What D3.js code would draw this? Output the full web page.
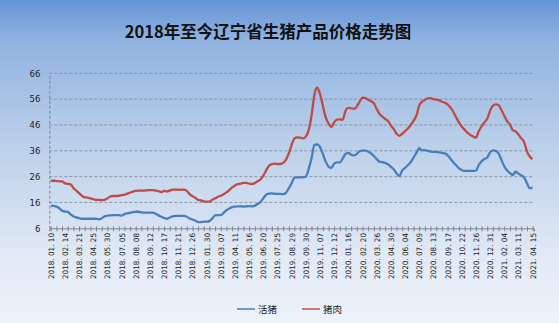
<!DOCTYPE html>
<html><head><meta charset="utf-8">
<script src="https://cdn.jsdelivr.net/npm/d3@7"></script>
<style>html,body{margin:0;padding:0;overflow:hidden;}svg{display:block;}</style>
</head><body>
<script>
const title = "2018年至今辽宁省生猪产品价格走势图";
const seriesNames = ["活猪", "猪肉"];
const yTicks = [6, 16, 26, 36, 46, 56, 66];
const tickLabels = ["2018. 01. 10","2018. 02. 14","2018. 03. 21","2018. 04. 25","2018. 05. 30","2018. 07. 05","2018. 08. 08","2018. 09. 12","2018. 10. 17","2018. 11. 21","2018. 12. 26","2019. 01. 30","2019. 03. 07","2019. 04. 11","2019. 05. 16","2019. 06. 20","2019. 07. 25","2019. 08. 29","2019. 09. 30","2019. 11. 07","2019. 12. 12","2020. 01. 16","2020. 02. 20","2020. 03. 26","2020. 04. 30","2020. 06. 04","2020. 07. 09","2020. 08. 13","2020. 09. 17","2020. 10. 22","2020. 11. 26","2020. 12. 31","2021. 02. 04","2021. 03. 11","2021. 04. 15"];
const livePig = [14.7,14.7,14.4,13.8,12.8,12.5,12.4,11.4,10.7,10.2,9.9,9.7,9.7,9.7,9.7,9.7,9.7,9.5,9.9,10.6,10.9,11.0,11.1,11.1,11.1,10.9,11.5,11.8,12.0,12.3,12.4,12.4,12.2,12.1,12.1,12.1,12.1,11.6,11.0,10.5,10.0,9.7,10.2,10.6,10.8,10.8,10.8,10.8,10.5,9.8,9.4,9.0,8.4,8.4,8.6,8.6,8.8,9.8,11.0,11.1,11.1,12.0,13.0,13.7,14.2,14.4,14.5,14.5,14.4,14.5,14.6,14.5,14.8,15.4,16.2,17.6,19.0,19.4,19.5,19.4,19.3,19.3,19.2,19.8,21.5,23.4,25.6,25.7,25.7,25.8,26.0,29.0,33.0,38.2,38.5,37.5,34.8,31.8,29.9,29.4,31.0,31.5,31.5,33.0,34.8,35.2,34.5,34.2,34.8,35.9,36.1,36.1,35.6,35.0,34.0,32.8,31.8,31.6,31.3,30.8,29.8,28.9,27.2,26.2,28.4,29.4,30.4,31.6,33.4,35.2,37.0,36.2,36.3,36.0,35.7,35.6,35.6,35.4,35.2,35.0,34.3,32.9,31.6,30.4,29.2,28.6,28.2,28.2,28.2,28.2,28.3,30.5,31.9,32.8,33.4,35.4,36.2,36.0,35.0,32.5,30.0,28.4,27.4,26.6,27.9,27.2,26.5,25.6,23.5,21.5,21.8];
const pork = [24.4,24.4,24.3,24.2,24.2,23.4,23.2,23.0,21.6,20.6,19.6,18.6,18.0,17.9,17.6,17.3,17.0,17.0,16.9,17.0,17.6,18.3,18.5,18.5,18.6,18.8,19.0,19.4,19.8,20.2,20.5,20.6,20.6,20.6,20.7,20.8,20.8,20.6,20.4,20.0,20.5,20.3,20.6,21.0,21.0,21.0,20.9,21.0,20.5,19.2,18.4,17.8,17.0,16.8,16.4,16.3,16.3,17.1,17.6,18.2,18.6,19.2,19.9,20.8,21.8,22.6,23.1,23.3,23.6,23.6,23.3,23.2,23.5,24.2,24.9,26.4,28.4,30.2,30.8,31.0,30.9,30.9,31.3,32.6,35.0,38.3,40.8,41.2,41.1,40.8,41.5,44.0,49.5,57.5,60.4,58.0,53.5,49.0,46.6,45.2,47.0,48.1,48.2,48.0,51.5,52.6,52.5,52.2,53.2,55.0,56.6,56.4,55.8,55.2,54.4,52.2,50.3,49.2,48.3,47.5,45.8,44.4,42.6,41.8,42.6,43.6,44.6,46.0,47.6,49.6,53.5,55.0,55.7,56.3,56.4,56.0,55.8,55.5,55.1,54.6,54.0,52.8,51.1,49.0,47.0,45.4,44.2,43.0,42.2,41.5,41.1,43.6,45.4,47.0,48.4,51.5,53.5,54.0,53.7,51.8,49.6,47.5,46.2,44.0,43.5,42.3,40.8,39.4,35.8,33.8,32.8];
const labelStep = 5;
const colors = ["#4a7ebb", "#be4b48"];

const W = 559, H = 323;
const svg = d3.select("body").append("svg").attr("width", W).attr("height", H);
const defs = svg.append("defs");
const grad = defs.append("linearGradient").attr("id","bg").attr("x1",0).attr("y1",0).attr("x2",0).attr("y2",1);
[[0,"#6494d6"],[0.12,"#8fb2e0"],[0.45,"#bcd0ea"],[0.8,"#e2eaf6"],[1,"#eef3fa"]].forEach(s=>grad.append("stop").attr("offset",s[0]).attr("stop-color",s[1]));
svg.append("rect").attr("width",W).attr("height",H).attr("fill","url(#bg)");

const idx = d3.range(pork.length);
const x = d3.scalePoint().domain(idx).range([49.3, 534]).padding(0.5);
const y = d3.scaleLinear().domain([6, 66]).range([228.3, 73.3]);

svg.append("text").attr("x", 268).attr("y", 38).attr("text-anchor","middle")
  .attr("font-family","'Noto Sans CJK SC', sans-serif").attr("font-weight","bold")
  .attr("font-size", 16.5).attr("fill","#111").text(title);

// gridlines
svg.append("g").selectAll("line").data(yTicks.filter(t=>t>6)).join("line")
  .attr("x1", 49.3).attr("x2", 534).attr("y1", d=>y(d)).attr("y2", d=>y(d))
  .attr("stroke","#7f858f").attr("stroke-width",0.8).attr("stroke-dasharray","3,2");

// y axis
const yAxis = svg.append("g").attr("transform","translate(49.3,0)")
  .call(d3.axisLeft(y).tickValues(yTicks).tickSize(0).tickPadding(9));
yAxis.select(".domain").attr("stroke","#7f858f").attr("stroke-dasharray","3,2");
yAxis.selectAll("text").attr("font-family","'DejaVu Sans', sans-serif").attr("font-size",8.5).attr("fill","#222");

// x axis
const xAxis = svg.append("g").attr("transform","translate(0,228.3)")
  .call(d3.axisBottom(x).tickValues(idx.filter(i=>i%2===0)).tickSize(3).tickFormat(""));
xAxis.select(".domain").attr("stroke","#7f858f");
xAxis.selectAll(".tick line").attr("stroke","#7f858f").attr("y1",-2);

svg.append("g").selectAll("text").data(tickLabels).join("text")
  .attr("transform",(d,k)=>`translate(${x(k*labelStep)+3},233) rotate(-90)`)
  .attr("text-anchor","end").attr("font-family","'DejaVu Sans', sans-serif")
  .attr("font-size",7.5).attr("fill","#222")
  .attr("textLength",46).attr("lengthAdjust","spacingAndGlyphs").text(d=>d);

// lines
const line = d3.line().x((d,i)=>x(i)).y(d=>y(d)).curve(d3.curveMonotoneX);
[livePig, pork].forEach((s,k)=>{
  svg.append("path").datum(s).attr("d",line).attr("fill","none")
    .attr("stroke",colors[k]).attr("stroke-width",2.3).attr("stroke-linejoin","round");
});

// legend
const legX = [237, 302];
seriesNames.forEach((n,k)=>{
  const g = svg.append("g").attr("transform",`translate(${legX[k]},309)`);
  g.append("line").attr("x1",0).attr("x2",18).attr("y1",0).attr("y2",0).attr("stroke",colors[k]).attr("stroke-width",1.5);
  g.append("text").attr("x",21).attr("y",3.5).attr("font-family","'Noto Sans CJK SC', sans-serif").attr("font-size",9.5).attr("fill","#222").text(n);
});
</script>
</body></html>
